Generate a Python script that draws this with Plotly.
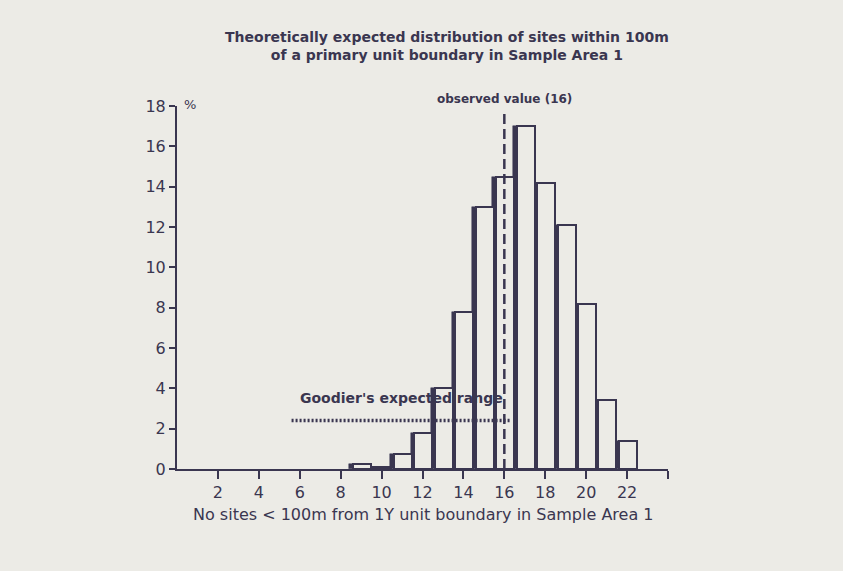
import plotly.graph_objects as go

# Data
sites = [9, 10, 11, 12, 13, 14, 15, 16, 17, 18, 19, 20, 21, 22]
percent = [0.25, 0.1, 0.75, 1.8, 4.0, 7.8, 13.0, 14.5, 17.0, 14.2, 12.1, 8.2, 3.4, 1.4]
observed_value = 16
observed_top = 17.8
goodier_range = [5.6, 16.3]
goodier_level = 2.4
x_ticks = [2, 4, 6, 8, 10, 12, 14, 16, 18, 20, 22, 24]
x_tick_labels = ["2", "4", "6", "8", "10", "12", "14", "16", "18", "20", "22", ""]
y_ticks = [0, 2, 4, 6, 8, 10, 12, 14, 16, 18]

INK = "#3a3650"
PAPER = "#ecebe6"
FONT = "DejaVu Sans"

fig = go.Figure()

# thick dark left edges of bars
fig.add_trace(go.Bar(
    x=sites, y=percent, width=0.18, offset=-0.58,
    marker=dict(color=INK, line=dict(color=INK, width=0.5)),
    showlegend=False, hoverinfo="skip"))
# white bars
fig.add_trace(go.Bar(
    x=sites, y=percent, width=0.88, offset=-0.4,
    marker=dict(color=PAPER, line=dict(color=INK, width=2)),
    showlegend=False))

# observed value dashed line
fig.add_trace(go.Scatter(
    x=[observed_value, observed_value], y=[0, observed_top],
    mode="lines", line=dict(color=INK, width=2.5, dash="10px,5px"),
    showlegend=False, cliponaxis=False))

# Goodier's expected range (dotted)
fig.add_trace(go.Scatter(
    x=goodier_range, y=[goodier_level, goodier_level],
    mode="lines", line=dict(color=INK, width=3.5, dash="2px,2px"),
    showlegend=False))

fig.update_layout(
    width=843, height=571,
    margin=dict(l=177, r=175, t=106, b=102),
    paper_bgcolor=PAPER, plot_bgcolor=PAPER,
    barmode="overlay", bargap=0,
    font=dict(family=FONT, color=INK, size=14),
    xaxis=dict(range=[0, 24], tickvals=x_ticks, ticktext=x_tick_labels,
               showgrid=False, zeroline=False, showline=True, linecolor=INK,
               linewidth=2, ticks="outside", ticklen=8, tickwidth=2,
               tickcolor=INK, tickfont=dict(size=16, family=FONT)),
    yaxis=dict(range=[0, 18], tickvals=y_ticks, showgrid=False,
               zeroline=False, showline=True, linecolor=INK, linewidth=2,
               ticks="outside", ticklen=6, tickwidth=2, tickcolor=INK,
               tickfont=dict(size=16, family=FONT)),
    annotations=[
        dict(text="<b>Theoretically expected distribution of sites within 100m<br>of a primary unit boundary in Sample Area 1</b>",
             xref="paper", yref="paper", x=0.55, y=1.165, showarrow=False,
             font=dict(size=14, family=FONT), align="center", yanchor="middle"),
        dict(text="%", xref="paper", yref="paper", x=0.01, y=1.03,
             showarrow=False, font=dict(size=13, family=FONT)),
        dict(text="<b>observed value (16)</b>", xref="x", yref="paper",
             x=16, y=1.02, showarrow=False, yanchor="middle",
             font=dict(size=12, family=FONT)),
        dict(text="<b>Goodier's expected range</b>", xref="x", yref="y",
             x=5.9, y=3.5, xanchor="left", yanchor="middle", showarrow=False,
             font=dict(size=14, family=FONT)),
        dict(text="No sites &lt; 100m from 1Y unit boundary in Sample Area 1",
             xref="paper", yref="paper", x=0.5, y=-0.125, showarrow=False,
             yanchor="middle", font=dict(size=16, family=FONT)),
    ],
)

fig.write_html("out.html",
               config={"displayModeBar": False},
               post_script="document.body.style.margin='0px';"
                           "document.body.style.background='#ecebe6';")
